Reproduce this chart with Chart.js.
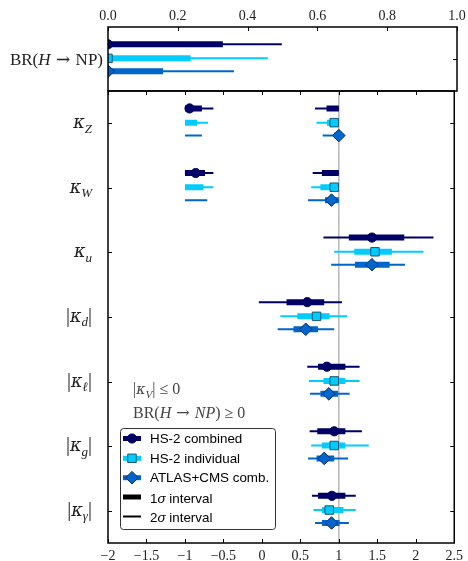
<!DOCTYPE html>
<html><head><meta charset="utf-8">
<script src="https://cdn.jsdelivr.net/npm/chart.js@4.4.0/dist/chart.umd.min.js"></script>
<style>
html,body{margin:0;padding:0;background:#fff;}
#wrap{position:relative;width:468px;height:561px;overflow:hidden;}
canvas{position:absolute;left:0;}
#cTop{top:0;}
#cMain{top:80px;}
</style></head><body>
<div id="wrap">
<canvas id="cTop" width="468" height="92"></canvas>
<canvas id="cMain" width="468" height="481"></canvas>
</div>
<script>
// ---------------- data ----------------
const rowLabels = ['κ_Z','κ_W','κ_u','|κ_d|','|κ_ℓ|','|κ_g|','|κ_γ|'];
const seriesNames = ['HS-2 combined','HS-2 individual','ATLAS+CMS comb.'];
const xTicksMain = [-2,-1.5,-1,-0.5,0,0.5,1,1.5,2,2.5];
const xTicksTop = [0,0.2,0.4,0.6,0.8,1.0];

const bestCombined   = [-0.94, -0.86, 1.43, 0.59, 0.845, 0.94, 0.91];
const bestIndividual = [0.94, 0.94, 1.47, 0.71, 0.94, 0.94, 0.875];
const bestAtlas      = [1.0, 0.905, 1.43, 0.57, 0.87, 0.81, 0.905];

const sig1Combined = [[[-1,-0.78],[0.84,1]], [[-1,-0.74],[0.78,1]], [[1.13,1.85]], [[0.32,0.81]], [[0.73,1.085]], [[0.72,1.085]], [[0.73,1.085]]];
const sig2Combined = [[[-1,-0.63],[0.69,1]], [[-1,-0.63],[0.66,1]], [[0.80,2.23]], [[-0.04,1.04]], [[0.59,1.27]], [[0.62,1.30]], [[0.65,1.22]]];
const sig1Individual = [[[-1,-0.84],[0.845,1]], [[-1,-0.76],[0.76,1]], [[1.20,1.69]], [[0.46,0.88]], [[0.80,1.085]], [[0.78,1.085]], [[0.78,1.06]]];
const sig2Individual = [[[-1,-0.70],[0.71,1]], [[-1,-0.63],[0.64,1]], [[0.94,2.10]], [[0.24,1.11]], [[0.61,1.27]], [[0.64,1.39]], [[0.67,1.22]]];
const sig1Atlas = [[[0.94,1]], [[0.82,1]], [[1.21,1.66]], [[0.41,0.73]], [[0.76,0.99]], [[0.71,0.94]], [[0.78,1.01]]];
const sig2Atlas = [[[-1,-0.78],[0.79,1]], [[-1,-0.71],[0.60,1]], [[0.90,1.86]], [[0.205,0.94]], [[0.625,1.14]], [[0.60,1.12]], [[0.69,1.13]]];

const brBest = [0, 0, 0];
const brSig1 = [[0, 0.329], [0, 0.237], [0, 0.158]];
const brSig2 = [[0, 0.498], [0, 0.458], [0, 0.361]];

// ---------------- style ----------------
const COLORS = ['#000066', '#00ccff', '#0066cc'];
const EDGES = ['#000066', '#1d5670', '#0a2f66'];
const STYLES = ['circle', 'rect', 'rectRot'];
const RADII = [4.6, 6, 6.3];
const OFFS = [-0.23, -0.01, 0.19];
const SERIF = '"Liberation Serif", "DejaVu Serif", serif';
const GREEKF = '"DejaVu Serif", serif';
const ARROWF = '"DejaVu Serif", serif';
const SANS = '"Liberation Sans", Arial, sans-serif';

function segs(rows, off) {
  const pts = [];
  rows.forEach((row, i) => row.forEach(([lo, hi]) => {
    pts.push({x: lo, y: i + off}, {x: hi, y: i + off}, {x: null, y: null});
  }));
  return pts;
}
function lineDs(data, color, w, order, clip) {
  return {type: 'line', data, borderColor: color, backgroundColor: color, borderWidth: w,
    borderCapStyle: 'butt', pointRadius: 0, spanGaps: false, order, clip, tension: 0, showLine: true};
}
function markDs(data, k, clip) {
  return {type: 'scatter', data, pointStyle: STYLES[k], pointRadius: RADII[k], pointHoverRadius: RADII[k],
    backgroundColor: COLORS[k], borderColor: EDGES[k], borderWidth: 1, order: 0, clip};
}

// rich text helper
function parseMath(lbl) {
  const parts = [];
  let i = 0;
  while (i < lbl.length) {
    const c = lbl[i];
    if (c === '_') { parts.push({t: lbl[i + 1], it: true, sub: true}); i += 2; continue; }
    if (c === 'κ') parts.push({t: c, it: true, fam: GREEKF, scale: 0.88});
    else parts.push({t: c, it: c !== '|' && c !== ' '});
    i++;
  }
  return parts;
}
function drawRich(ctx, parts, x, y, align, size, family, color, subSize) {
  ctx.save();
  ctx.fillStyle = color; ctx.textBaseline = 'alphabetic'; ctx.textAlign = 'left';
  let w = 0;
  const fm = parts.map(p => {
    const s = p.sub ? (subSize || size * 0.7) : size * (p.scale || 1);
    const f = (p.it ? 'italic ' : '') + s + 'px ' + (p.fam || family);
    ctx.font = f;
    const pw = ctx.measureText(p.t).width;
    w += pw;
    return {f, pw};
  });
  let cx = align === 'right' ? x - w : x;
  parts.forEach((p, k) => {
    ctx.font = fm[k].f;
    ctx.fillText(p.t, cx, y + (p.sub ? size * 0.22 : 0));
    cx += fm[k].pw;
  });
  ctx.restore();
}
function drawMarker(ctx, k, x, y) {
  const r = RADII[k];
  ctx.save();
  ctx.fillStyle = COLORS[k]; ctx.strokeStyle = EDGES[k]; ctx.lineWidth = 1;
  ctx.beginPath();
  if (STYLES[k] === 'circle') ctx.arc(x, y, r, 0, Math.PI * 2);
  else if (STYLES[k] === 'rect') { const s = r * Math.SQRT1_2; ctx.rect(x - s, y - s, 2 * s, 2 * s); }
  else { ctx.moveTo(x - r, y); ctx.lineTo(x, y - r); ctx.lineTo(x + r, y); ctx.lineTo(x, y + r); ctx.closePath(); }
  ctx.fill(); ctx.stroke();
  ctx.restore();
}

function frameAndTicks(chart, xTickVals, yTickVals, sides) {
  const {ctx, chartArea: a, scales: {x, y}} = chart;
  ctx.save();
  ctx.strokeStyle = '#000'; ctx.lineWidth = 1;
  const L = 4;
  ctx.beginPath();
  xTickVals.forEach(v => {
    const px = Math.round(x.getPixelForValue(v)) + 0.5;
    if (sides.includes('top')) { ctx.moveTo(px, a.top); ctx.lineTo(px, a.top + L); }
    if (sides.includes('bottom')) { ctx.moveTo(px, a.bottom); ctx.lineTo(px, a.bottom - L); }
  });
  yTickVals.forEach(v => {
    const py = Math.round(y.getPixelForValue(v)) + 0.5;
    if (sides.includes('left')) { ctx.moveTo(a.left, py); ctx.lineTo(a.left + L, py); }
    if (sides.includes('right')) { ctx.moveTo(a.right, py); ctx.lineTo(a.right - L, py); }
  });
  ctx.stroke();
  ctx.lineWidth = 1.5;
  ctx.strokeRect(a.left, a.top, a.right - a.left, a.bottom - a.top);
  ctx.restore();
}

const fmtTick = v => (v < 0 ? '−' : '') + String(Math.abs(Math.round(v * 10) / 10));

// ---------------- top panel ----------------
const topDatasets = [];
[brSig2, brSig1].forEach((src, s) => {
  src.forEach(([lo, hi], k) => {
    topDatasets.push(lineDs([{x: lo, y: OFFS[k]}, {x: hi, y: OFFS[k]}], COLORS[k], s ? 6 : 2, s ? 1 : 2, 0));
  });
});
brBest.forEach((v, k) => topDatasets.push(markDs([{x: v, y: OFFS[k]}], k, 0)));

new Chart(document.getElementById('cTop'), {
  type: 'scatter',
  data: {datasets: topDatasets},
  options: {
    responsive: false, animation: false, events: [],
    layout: {autoPadding: false, padding: {left: 0, right: 11, top: 0, bottom: 1}},
    plugins: {legend: {display: false}, tooltip: {enabled: false}},
    scales: {
      x: {type: 'linear', position: 'top', min: 0, max: 1,
        afterFit: s => { s.height = 27; },
        afterBuildTicks: s => { s.ticks = xTicksTop.map(v => ({value: v})); },
        ticks: {callback: v => v.toFixed(1), font: {family: SERIF, size: 14}, color: '#222', padding: 2, maxRotation: 0, autoSkip: false},
        grid: {display: false, drawTicks: false}, border: {display: false}},
      y: {type: 'linear', min: -0.5, max: 0.5, reverse: true,
        afterFit: s => { s.width = 108; },
        ticks: {display: false}, grid: {display: false, drawTicks: false}, border: {display: false}}
    }
  },
  plugins: [{
    id: 'topDeco',
    afterDraw(chart) {
      frameAndTicks(chart, xTicksTop, [0], ['top', 'right']);
      const y0 = chart.scales.y.getPixelForValue(0);
      drawRich(chart.ctx, [{t: 'BR(', it: false}, {t: 'H', it: true}, {t: ' → ', it: false, fam: ARROWF}, {t: 'NP)', it: false}],
        103, y0 + 6, 'right', 17, SERIF, '#222');
    }
  }]
});

// ---------------- main panel ----------------
const mainDatasets = [];
const sig2 = [sig2Combined, sig2Individual, sig2Atlas];
const sig1 = [sig1Combined, sig1Individual, sig1Atlas];
const best = [bestCombined, bestIndividual, bestAtlas];
for (let k = 0; k < 3; k++) {
  mainDatasets.push(lineDs(segs(sig2[k], OFFS[k]), COLORS[k], 2, 2));
  mainDatasets.push(lineDs(segs(sig1[k], OFFS[k]), COLORS[k], 6, 1));
  mainDatasets.push(markDs(best[k].map((v, i) => ({x: v, y: i + OFFS[k]})), k));
}

new Chart(document.getElementById('cMain'), {
  type: 'scatter',
  data: {datasets: mainDatasets},
  options: {
    responsive: false, animation: false, events: [],
    layout: {autoPadding: false, padding: {left: 0, right: 11, top: 11, bottom: 0}},
    plugins: {legend: {display: false}, tooltip: {enabled: false}},
    scales: {
      x: {type: 'linear', position: 'bottom', min: -2, max: 2.5,
        afterFit: s => { s.height = 18; },
        afterBuildTicks: s => { s.ticks = xTicksMain.map(v => ({value: v})); },
        ticks: {callback: fmtTick, font: {family: SERIF, size: 14}, color: '#222', padding: 5, maxRotation: 0, autoSkip: false},
        grid: {display: false, drawTicks: false}, border: {display: false}},
      y: {type: 'linear', min: -0.5, max: 6.5, reverse: true,
        afterFit: s => { s.width = 108; },
        ticks: {display: false}, grid: {display: false, drawTicks: false}, border: {display: false}}
    }
  },
  plugins: [{
    id: 'mainDeco',
    beforeDatasetsDraw(chart) {
      const {ctx, chartArea: a, scales: {x}} = chart;
      const px = x.getPixelForValue(1);
      ctx.save(); ctx.strokeStyle = '#b8b8b8'; ctx.lineWidth = 1.5;
      ctx.beginPath(); ctx.moveTo(px, a.top); ctx.lineTo(px, a.bottom); ctx.stroke(); ctx.restore();
    },
    afterDraw(chart) {
      const {ctx, scales: {y}} = chart;
      frameAndTicks(chart, xTicksMain, rowLabels.map((_, i) => i), ['top', 'bottom', 'left', 'right']);
      rowLabels.forEach((lbl, i) => {
        drawRich(ctx, parseMath(lbl), 92, y.getPixelForValue(i) + 5, 'right', 20, SERIF, '#222', 13);
      });
      // annotation (canvas top is at 80px)
      const o = 80;
      drawRich(ctx, [{t: '|'}, {t: 'κ', it: true, fam: GREEKF, scale: 0.88}, {t: 'V', it: true, sub: true}, {t: '| ≤ 0'}], 133, 394 - o, 'left', 16, SERIF, '#444');
      drawRich(ctx, [{t: 'BR('}, {t: 'H', it: true}, {t: ' → ', fam: ARROWF}, {t: 'NP', it: true}, {t: ') ≥ 0'}], 133, 418 - o, 'left', 16, SERIF, '#444');
      // legend
      ctx.save();
      const bx = 120.5, by = 428.5 - o, bw = 155, bh = 101;
      ctx.fillStyle = '#fff'; ctx.strokeStyle = '#333'; ctx.lineWidth = 1;
      ctx.beginPath(); ctx.roundRect(bx, by, bw, bh, 3); ctx.fill(); ctx.stroke();
      const rowsY = [438.5, 458.3, 477.7, 497, 516.5].map(v => v - o);
      ctx.font = '13.4px ' + SANS; ctx.textBaseline = 'middle'; ctx.fillStyle = '#000';
      for (let k = 0; k < 3; k++) {
        ctx.strokeStyle = COLORS[k]; ctx.lineWidth = 5;
        ctx.beginPath(); ctx.moveTo(123, rowsY[k]); ctx.lineTo(141, rowsY[k]); ctx.stroke();
        drawMarker(ctx, k, 132, rowsY[k]);
        ctx.fillStyle = '#000';
        ctx.fillText(seriesNames[k], 150, rowsY[k] + 1);
      }
      ctx.strokeStyle = '#000';
      ctx.lineWidth = 5; ctx.beginPath(); ctx.moveTo(123, rowsY[3]); ctx.lineTo(141, rowsY[3]); ctx.stroke();
      ctx.lineWidth = 2; ctx.beginPath(); ctx.moveTo(123, rowsY[4]); ctx.lineTo(141, rowsY[4]); ctx.stroke();
      drawRich(ctx, [{t: '1'}, {t: 'σ', it: true}, {t: ' interval'}], 150, rowsY[3] + 5.5, 'left', 13.4, SANS, '#000');
      drawRich(ctx, [{t: '2'}, {t: 'σ', it: true}, {t: ' interval'}], 150, rowsY[4] + 5.5, 'left', 13.4, SANS, '#000');
      ctx.restore();
    }
  }]
});
</script>
</body></html>
